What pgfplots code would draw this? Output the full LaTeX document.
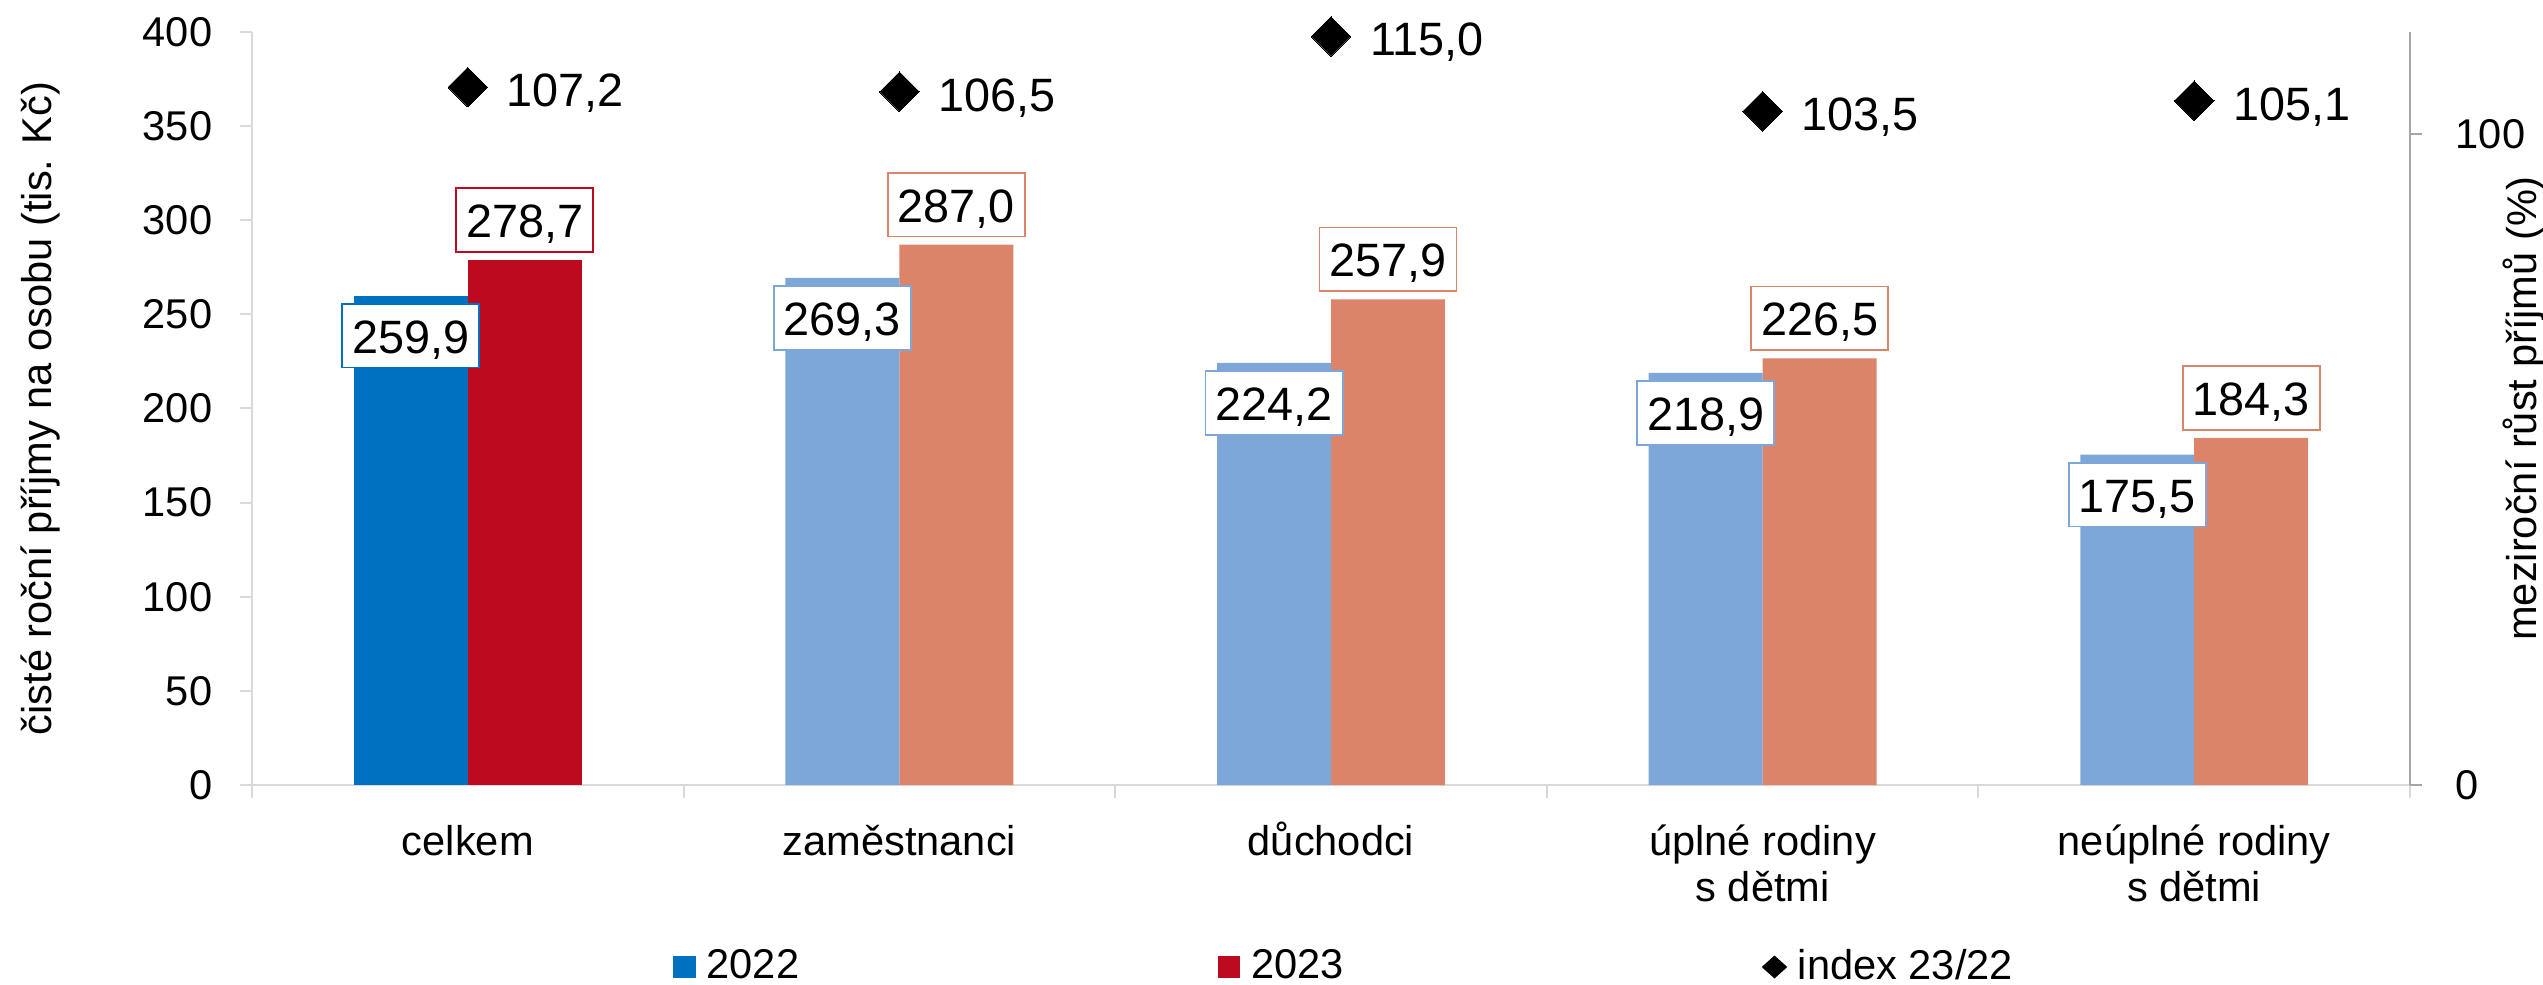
\documentclass[border=0pt]{standalone}
\usepackage{fontspec}
\setmainfont{Liberation Sans}
\usepackage{pgfplots}
\pgfplotsset{compat=1.18}

\definecolor{modra}{HTML}{0070C0}
\definecolor{cervena}{HTML}{BE0A1E}
\definecolor{svmodra}{HTML}{7DA7D9}
\definecolor{oranz}{HTML}{DB846A}
\definecolor{osa}{HTML}{D9D9D9}
\definecolor{osa2}{HTML}{A6A6A6}

\newcommand{\popisky}{\fontsize{10.4}{11.5}\selectfont}
\newcommand{\hodnoty}{\fontsize{11.7}{14}\selectfont}

\pgfplotsset{
  spolecne/.style={
    scale only axis, width=539.5pt, height=188.3pt,
    xmin=-0.5, xmax=4.5,
    tick align=outside, major tick length=3pt,
    tick label style={font=\popisky},
    /pgf/number format/assume math mode=true,
  },
  % label box on a bar, #1 = border colour
  stitek/.style={
    nodes near coords={\pgfmathprintnumber[fixed,fixed zerofill,precision=1,use comma]{\pgfplotspointmeta}},
    nodes near coords style={font=\hodnoty, fill=white, draw=#1, line width=0.45pt,
      inner xsep=2.5pt, inner ysep=3.6pt, text height=8.75pt, text depth=0pt, anchor=center},
  },
  % 0.132 axis units = 14.24pt
  dole/.style={stitek=#1, nodes near coords style={yshift=-10pt, xshift=-14.24pt}},
  nahore/.style={stitek=#1, nodes near coords style={yshift=10pt, xshift=14.24pt}},
}

\begin{document}
\begin{tikzpicture}
\path[use as bounding box] (-63pt,-49.75pt) rectangle (572.75pt,196.25pt);

\begin{axis}[
  spolecne,
  ymin=0, ymax=400,
  axis x line*=bottom, axis y line*=left,
  axis line style={draw=osa, line width=0.5pt, -},
  ytick={0,50,100,150,200,250,300,350,400},
  ytick style={draw=osa, line width=0.5pt},
  yticklabel style={anchor=east, inner sep=0pt, xshift=-6.75pt},
  xtick={0,1,2,3,4},
  xticklabels={{\rule{0pt}{10pt}celkem}, {\rule{0pt}{10pt}zaměstnanci}, {\rule{0pt}{10pt}důchodci},
    {\rule{0pt}{10pt}úplné rodiny\\s dětmi}, {\rule{0pt}{10pt}neúplné rodiny\\s dětmi}},
  xticklabel style={anchor=north, inner sep=0pt, align=center, yshift=-4.5pt},
  xtick style={draw=none},
  extra x ticks={-0.5,0.5,1.5,2.5,3.5,4.5},
  extra x tick labels={},
  extra x tick style={xtick style={draw=osa, line width=0.5pt}, major tick length=3.25pt},
  every axis y label/.style={at={(axis description cs:-0.0927,0.5)}, rotate=90, anchor=base, font=\popisky},
  ylabel={čisté roční příjmy na osobu (tis. Kč)},
]
% 2023
\addplot[ybar, bar width=0.264, bar shift=0.132, fill=cervena, draw=none, nahore=cervena]
  coordinates {(0,278.7)};
\addplot[ybar, bar width=0.264, bar shift=0.132, fill=oranz, draw=none, nahore=oranz]
  coordinates {(1,287.0) (2,257.9) (3,226.5) (4,184.3)};
% 2022
\addplot[ybar, bar width=0.264, bar shift=-0.132, fill=modra, draw=none, dole=modra]
  coordinates {(0,259.9)};
\addplot[ybar, bar width=0.264, bar shift=-0.132, fill=svmodra, draw=none, dole=svmodra]
  coordinates {(1,269.3) (2,224.2) (3,218.9) (4,175.5)};
\end{axis}

\begin{axis}[
  spolecne,
  ymin=0, ymax=115.7,
  axis x line=none, axis y line*=right,
  y axis line style={draw=osa2, line width=0.5pt, -},
  ytick={0,100},
  ytick style={draw=osa2, line width=0.5pt},
  yticklabel style={anchor=west, inner sep=0pt, xshift=8.25pt},
  every axis y label/.style={at={(axis description cs:1.0585,0.5)}, rotate=90, anchor=base, font=\popisky},
  ylabel={meziroční růst příjmů (\%)},
  clip=false,
  legend columns=3,
  legend cell align=left,
  legend style={at={(axis description cs:0,0)}, anchor=west, xshift=105.25pt, yshift=-45.5pt,
    draw=none, fill=none, inner sep=0pt, outer sep=0pt, font=\popisky,
    nodes={inner sep=0pt},
    /tikz/every odd column/.append style={column sep=2.75pt},
    /tikz/every even column/.append style={column sep=104.6pt}},
]
\addlegendimage{legend image code/.code={\fill[modra] (0pt,-2.625pt) rectangle (5.25pt,2.625pt);}}
\addlegendentry{2022}
\addlegendimage{legend image code/.code={\fill[cervena] (0pt,-2.625pt) rectangle (5.25pt,2.625pt);}}
\addlegendentry{2023}
\addplot[only marks, mark=square*, mark size=3.5pt,
  mark options={rotate=45, fill=black, draw=black, line width=0pt},
  legend image code/.code={\fill[black] (0pt,0pt) -- (2.9pt,2.6pt) -- (5.8pt,0pt) -- (2.9pt,-2.6pt) -- cycle;},
  nodes near coords={\pgfmathprintnumber[fixed,fixed zerofill,precision=1,use comma]{\pgfplotspointmeta}},
  nodes near coords style={font=\hodnoty, anchor=west, inner sep=0pt, xshift=9.75pt,
    text height=8.75pt, text depth=0pt, yshift=-0.5pt},
] coordinates {(0,107.2) (1,106.5) (2,115.0) (3,103.5) (4,105.1)};
\addlegendentry{index 23/22}
\end{axis}
\end{tikzpicture}
\end{document}
